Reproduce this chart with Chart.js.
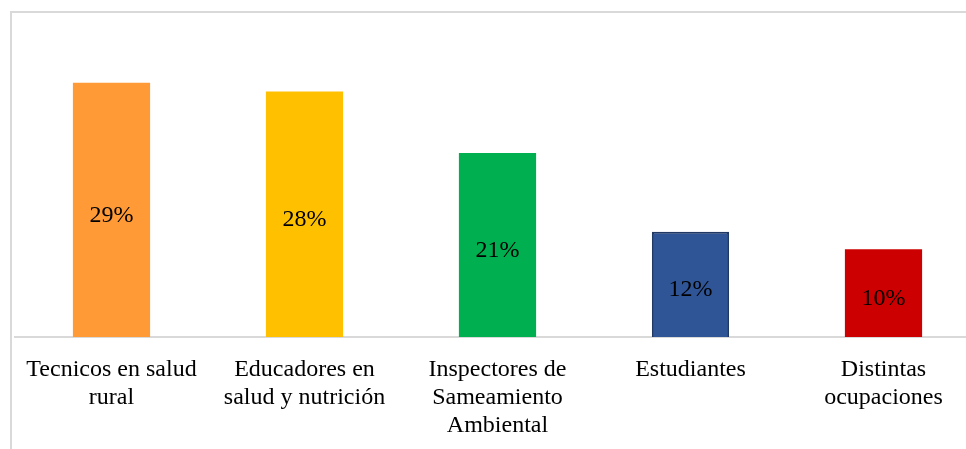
<!DOCTYPE html>
<html>
<head>
<meta charset="utf-8">
<script src="https://cdn.jsdelivr.net/npm/chart.js@4/dist/chart.umd.min.js"></script>
<style>
  html, body { margin: 0; padding: 0; background: #fff; overflow: hidden; }
  #frame { position: absolute; left: 10px; top: 11px; width: 1000px; height: 500px; border: 2px solid #d9d9d9; box-sizing: border-box; }
  #wrap { position: absolute; left: 0; top: 0; width: 980px; height: 449px; }
</style>
</head>
<body>
<div id="frame"></div>
<div id="wrap"><canvas id="chart"></canvas></div>
<script>
var categories = [
    ['Tecnicos en salud', 'rural'],
    ['Educadores en', 'salud y nutrición'],
    ['Inspectores de', 'Sameamiento', 'Ambiental'],
    'Estudiantes',
    ['Distintas', 'ocupaciones']
];
var values = [29, 28, 21, 12, 10];
var barColors = ['#ff9a36', '#ffc000', '#00b050', '#2f5597', '#cc0000'];
var borderColors = ['#ff9a36', '#ffc000', '#00b050', '#1f3864', '#cc0000'];

var valueLabels = {
    id: 'valueLabels',
    afterDatasetsDraw: function(chart) {
        var ctx = chart.ctx;
        var meta = chart.getDatasetMeta(0);
        ctx.save();
        ctx.font = '24px "Liberation Serif", "Times New Roman", serif';
        ctx.fillStyle = '#000';
        ctx.textAlign = 'center';
        ctx.textBaseline = 'middle';
        meta.data.forEach(function(bar, i) {
            var mid = (bar.y + bar.base) / 2 + 5.5;
            ctx.fillText(values[i] + '%', bar.x, mid);
        });
        ctx.restore();
    }
};

new Chart(document.getElementById('chart'), {
    type: 'bar',
    data: {
        labels: categories,
        datasets: [{
            data: values,
            backgroundColor: barColors,
            borderColor: borderColors,
            borderWidth: [0, 0, 0, 2, 0],
            barPercentage: 0.4,
            categoryPercentage: 1.0
        }]
    },
    options: {
        responsive: true,
        maintainAspectRatio: false,
        animation: false,
        layout: { padding: { left: 15, right: 0, top: 39, bottom: 0 } },
        plugins: { legend: { display: false }, tooltip: { enabled: false } },
        scales: {
            x: {
                grid: { display: false },
                border: { display: true, color: '#d9d9d9', width: 2 },
                ticks: {
                    color: '#000',
                    font: { family: '"Liberation Serif", "Times New Roman", serif', size: 24, lineHeight: 1.1667 },
                    padding: 11,
                    maxRotation: 0,
                    autoSkip: false
                },
                afterFit: function(scale) { scale.height = 112; }
            },
            y: {
                display: false,
                min: 0,
                max: 34
            }
        }
    },
    plugins: [valueLabels]
});
</script>
</body>
</html>
